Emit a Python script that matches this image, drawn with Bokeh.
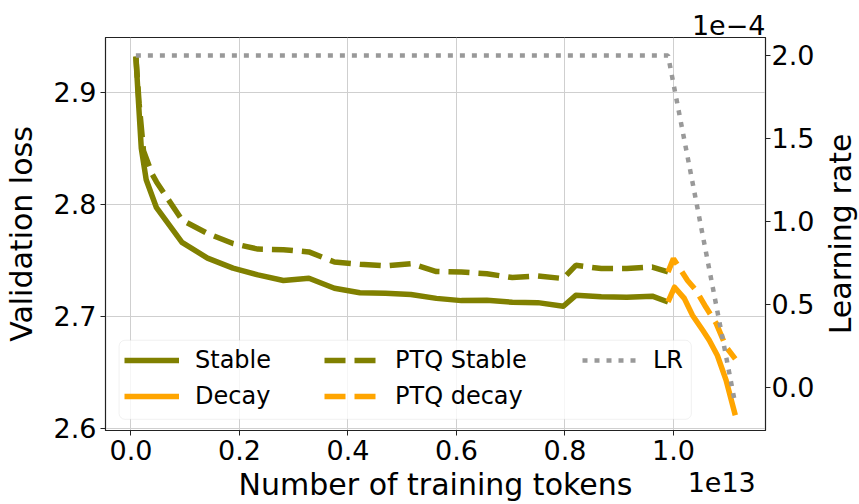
from bokeh.plotting import figure
from bokeh.layouts import row
from bokeh.models import (Range1d, LinearAxis, FixedTicker, PrintfTickFormatter,
                          Legend, LegendItem, BoxAnnotation, Title)
from bokeh.embed import file_html
from bokeh.resources import INLINE

# Training tokens are in units of 1e13, learning rate in units of 1e-4.
stable_tokens = [0.009, 0.014, 0.019, 0.028, 0.047, 0.094, 0.141, 0.188, 0.234,
                 0.281, 0.328, 0.375, 0.422, 0.469, 0.516, 0.563, 0.609, 0.656,
                 0.703, 0.750, 0.797, 0.820, 0.867, 0.914, 0.961, 0.990]
stable_loss = [2.932, 2.890, 2.850, 2.822, 2.797, 2.766, 2.752, 2.743, 2.737,
               2.732, 2.734, 2.725, 2.721, 2.7205, 2.7195, 2.716, 2.714, 2.7143,
               2.7125, 2.7122, 2.709, 2.7187, 2.7175, 2.717, 2.718, 2.7128]

ptq_stable_tokens = [0.009, 0.015, 0.023, 0.039, 0.047, 0.094, 0.141, 0.188, 0.234,
                     0.281, 0.328, 0.375, 0.422, 0.469, 0.516, 0.563, 0.609, 0.656,
                     0.703, 0.750, 0.797, 0.820, 0.867, 0.914, 0.961, 0.990]
ptq_stable_loss = [2.932, 2.890, 2.848, 2.827, 2.820, 2.786, 2.774, 2.765, 2.760,
                   2.7595, 2.7575, 2.7485, 2.7465, 2.745, 2.747, 2.740, 2.7395, 2.738,
                   2.7346, 2.736, 2.7337, 2.7455, 2.7426, 2.7426, 2.744, 2.7396]

decay_tokens = [0.990, 1.002, 1.020, 1.035, 1.054, 1.066, 1.081, 1.097, 1.114]
decay_loss = [2.7128, 2.726, 2.716, 2.701, 2.6875, 2.6786, 2.665, 2.643, 2.6116]

ptq_decay_tokens = [0.990, 1.000, 1.026, 1.042, 1.060, 1.079, 1.097, 1.114]
ptq_decay_loss = [2.7396, 2.7515, 2.732, 2.723, 2.708, 2.6935, 2.6726, 2.662]

lr_tokens = [0.009, 0.990, 1.114]
lr_values = [2.0, 2.0, -0.1]

x_ticks = [0.0, 0.2, 0.4, 0.6, 0.8, 1.0]
loss_ticks = [2.6, 2.7, 2.8, 2.9]
lr_ticks = [0.0, 0.5, 1.0, 1.5, 2.0]

OLIVE = "#808000"
ORANGE = "#ffa500"
GREY = "#999999"
FONT = "DejaVu Sans"
TICK_SIZE = "27px"
LABEL_SIZE = "30px"
LEGEND_SIZE = "24px"

X_RANGE = (-0.047, 1.1697)
LOSS_RANGE = (2.598, 2.949)
LR_RANGE = (-0.259, 2.108)
X_MULTIPLIER_AT = 1.089   # where the "1e13" multiplier sits along the token axis

BORDER_TOP = 37
BORDER_BOTTOM = 74

p = figure(width=817, height=504, output_backend="svg", toolbar_location=None,
           x_range=Range1d(*X_RANGE), y_range=Range1d(*LOSS_RANGE),
           min_border_left=104, min_border_right=50, min_border_top=BORDER_TOP,
           min_border_bottom=BORDER_BOTTOM)
p.extra_y_ranges = {"lr": Range1d(*LR_RANGE)}

# multiplier of the learning-rate axis, shown top right
p.title = Title(text="1e\u22124", align="right", vertical_align="top",
                text_font=FONT, text_font_size=TICK_SIZE, text_font_style="normal",
                text_color="black", standoff=2)

p.background_fill_color = "white"
p.border_fill_color = "white"
p.outline_line_color = "#222222"
p.outline_line_width = 1.2

# grid
p.xgrid.ticker = FixedTicker(ticks=x_ticks)
p.ygrid.ticker = FixedTicker(ticks=loss_ticks)
for g in (p.xgrid, p.ygrid):
    g.grid_line_color = "#cfcfcf"
    g.grid_line_width = 1

def style_axis(ax, ticks):
    ax.ticker = FixedTicker(ticks=ticks)
    ax.formatter = PrintfTickFormatter(format="%.1f")
    ax.major_label_text_font = FONT
    ax.major_label_text_font_size = TICK_SIZE
    ax.major_label_text_color = "black"
    ax.axis_label_text_font = FONT
    ax.axis_label_text_font_size = LABEL_SIZE
    ax.axis_label_text_font_style = "normal"
    ax.axis_label_text_color = "black"
    ax.major_tick_out = 5
    ax.major_tick_in = 0
    ax.minor_tick_out = 0
    ax.minor_tick_in = 0
    ax.axis_line_color = "#222222"
    ax.major_tick_line_color = "#222222"
    ax.major_label_standoff = 4
    ax.axis_label_standoff = 4

style_axis(p.xaxis[0], x_ticks)
p.xaxis[0].axis_label = "Number of training tokens"
style_axis(p.yaxis[0], loss_ticks)
p.yaxis[0].axis_label = "Validation loss"
p.yaxis[0].axis_label_standoff = 12

# learning-rate axis (its title sits in the narrow strip to the right)
lr_axis = LinearAxis(y_range_name="lr")
style_axis(lr_axis, lr_ticks)
lr_axis.major_label_standoff = 1
p.add_layout(lr_axis, "right")

# multiplier of the token axis: a bare axis whose only label is "1e13",
# pulled up beside the axis title
mult_axis = LinearAxis(ticker=FixedTicker(ticks=[X_MULTIPLIER_AT]),
                       major_label_overrides={X_MULTIPLIER_AT: "1e13"},
                       axis_line_color=None, major_tick_line_color=None,
                       major_tick_out=0, major_tick_in=0,
                       minor_tick_out=0, minor_tick_in=0,
                       major_label_standoff=-33,
                       major_label_text_font=FONT,
                       major_label_text_font_size=TICK_SIZE,
                       major_label_text_color="black")
p.add_layout(mult_axis, "below")

# curves
r_stable = p.line(stable_tokens, stable_loss, line_color=OLIVE, line_width=5.5,
                  line_join="round")
r_decay = p.line(decay_tokens, decay_loss, line_color=ORANGE, line_width=5.5,
                 line_join="round")
r_ptq_stable = p.line(ptq_stable_tokens, ptq_stable_loss, line_color=OLIVE,
                      line_width=5.5, line_dash="21 9")
r_ptq_decay = p.line(ptq_decay_tokens, ptq_decay_loss, line_color=ORANGE,
                     line_width=5.5, line_dash="21 9")
r_lr = p.line(lr_tokens, lr_values, y_range_name="lr", line_color=GREY,
              line_width=4.5, line_dash="5 7")

# legend frame
p.add_layout(BoxAnnotation(left=-0.022, right=1.033, bottom=2.608, top=2.6786,
                           fill_color="white", fill_alpha=0.8,
                           line_color="#d0d0d0", line_width=1, border_radius=6))

def make_legend(items, x, y):
    lg = Legend(items=items, location=(x, y), orientation="vertical",
                label_text_font=FONT, label_text_font_size=LEGEND_SIZE,
                label_text_color="black", glyph_width=55, glyph_height=28,
                label_height=28, label_standoff=16, spacing=8, padding=0,
                margin=0, background_fill_alpha=0, border_line_alpha=0)
    p.add_layout(lg)

make_legend([LegendItem(label="Stable", renderers=[r_stable]),
             LegendItem(label="Decay", renderers=[r_decay])], 19, 20)
make_legend([LegendItem(label="PTQ Stable", renderers=[r_ptq_stable]),
             LegendItem(label="PTQ decay", renderers=[r_ptq_decay])], 219, 20)
make_legend([LegendItem(label="LR", renderers=[r_lr])], 477, 56)

# narrow strip carrying the learning-rate title, reading bottom-to-top
side = figure(width=42, height=504, output_backend="svg", toolbar_location=None,
              x_range=Range1d(0, 1), y_range=Range1d(*LR_RANGE),
              x_axis_location=None, y_axis_location=None,
              min_border_left=40, min_border_right=0, min_border_top=BORDER_TOP,
              min_border_bottom=BORDER_BOTTOM)
side.outline_line_color = None
side.background_fill_color = "white"
side.border_fill_color = "white"
side.grid.visible = False
lr_title_axis = LinearAxis(axis_label="Learning rate", ticker=FixedTicker(ticks=[]),
                           axis_line_color=None, major_tick_line_color=None,
                           minor_tick_line_color=None, major_tick_out=0,
                           major_tick_in=0, minor_tick_out=0, minor_tick_in=0,
                           major_label_standoff=0, axis_label_standoff=0,
                           axis_label_text_font=FONT,
                           axis_label_text_font_size=LABEL_SIZE,
                           axis_label_text_font_style="normal",
                           axis_label_text_color="black")
side.add_layout(lr_title_axis, "left")

open("out.html", "w").write(file_html(row(p, side), INLINE))
